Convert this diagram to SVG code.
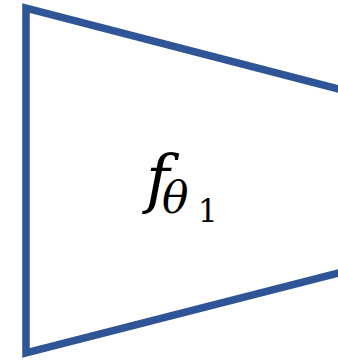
<svg xmlns="http://www.w3.org/2000/svg" width="338" height="361" viewBox="0 0 338 361">
<style>
.shape{fill:none;stroke:#2F5597;stroke-width:7.5;stroke-linejoin:miter}
.m{font-family:"DejaVu Serif",serif;fill:#000}
</style>
<rect width="338" height="361" fill="#fff"/>
<g id="encoder">
<path class="shape" d="M346,91 L26,8 L26,353 L346,271"/>
<text class="m"><tspan x="146" y="201" font-size="64" font-style="italic">f</tspan><tspan x="162" y="213" font-size="44" font-style="italic">θ</tspan><tspan x="198" y="222" font-size="31">1</tspan></text>
</g>
</svg>
